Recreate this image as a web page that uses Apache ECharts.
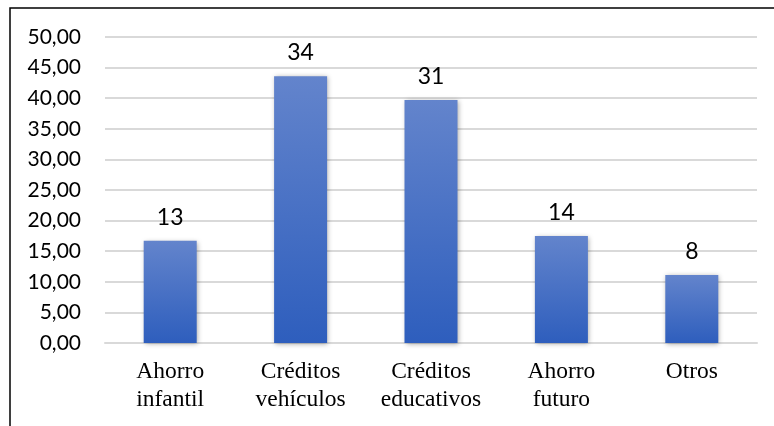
<!DOCTYPE html>
<html>
<head>
<meta charset="utf-8">
<script src="https://cdn.jsdelivr.net/npm/echarts@6/dist/echarts.min.js"></script>
<style>
  html, body { margin: 0; padding: 0; background: #ffffff; }
  #chart { width: 774px; height: 426px; }
</style>
</head>
<body>
<div id="chart"></div>
<script>
// Categories (two-line labels) and the plotted percentages
const categories = ['Ahorro\ninfantil', 'Créditos\nvehículos', 'Créditos\neducativos', 'Ahorro\nfuturo', 'Otros'];
const percentages = [16.7, 43.6, 39.7, 17.5, 11.1];
// Counts printed above each bar
const counts = [13, 34, 31, 14, 8];
// Value axis ticks
const yMin = 0, yMax = 50, yStep = 5;

const chart = echarts.init(document.getElementById('chart'), null, { renderer: 'canvas' });

chart.setOption({
  animation: false,
  backgroundColor: '#ffffff',
  graphic: [{
    type: 'rect',
    shape: { x: 10, y: 8, width: 900, height: 600 },
    style: { fill: 'none', stroke: '#000000', lineWidth: 1.5 },
    silent: true
  }],
  grid: { left: 105, right: 17, top: 37, bottom: 83, containLabel: false },
  xAxis: {
    type: 'category',
    data: categories,
    axisLine: { show: true, lineStyle: { color: '#d9d9d9', width: 2 } },
    axisTick: { show: false },
    axisLabel: {
      interval: 0,
      hideOverlap: false,
      margin: 15,
      fontFamily: '"Liberation Serif", "Times New Roman", serif',
      fontSize: 23.5,
      lineHeight: 28,
      color: '#000000'
    }
  },
  yAxis: {
    type: 'value',
    min: yMin, max: yMax, interval: yStep,
    axisLine: { show: false },
    axisTick: { show: false },
    splitLine: { lineStyle: { color: '#d9d9d9', width: 2 } },
    axisLabel: {
      margin: 24,
      fontFamily: 'Lato, "Open Sans", sans-serif',
      fontSize: 21,
      color: '#000000',
      formatter: v => v.toFixed(2).replace('.', ',')
    }
  },
  series: [{
    type: 'bar',
    data: percentages,
    barWidth: 53,
    itemStyle: {
      color: new echarts.graphic.LinearGradient(0, 0, 0, 1, [
        { offset: 0, color: '#6384cc' },
        { offset: 1, color: '#2e5ebd' }
      ]),
      shadowColor: 'rgba(0,0,0,0.35)',
      shadowBlur: 5,
      shadowOffsetX: 1,
      shadowOffsetY: 1
    },
    label: {
      show: true,
      position: 'top',
      distance: 12,
      fontFamily: 'Lato, "Open Sans", sans-serif',
      fontSize: 23,
      color: '#000000',
      formatter: p => String(counts[p.dataIndex])
    }
  }]
});
</script>
</body>
</html>
